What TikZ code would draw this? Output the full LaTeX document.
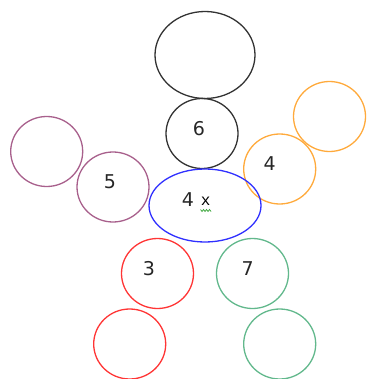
\documentclass[tikz,border=0pt]{standalone}
\usepackage{fontspec}
\setmainfont{DejaVu Sans}
\newfontfamily\xfont{Liberation Mono}
\usetikzlibrary{shapes.geometric}
\definecolor{cgray}{HTML}{333333}
\definecolor{cpurple}{HTML}{A8608C}
\definecolor{corange}{HTML}{FFAA3C}
\definecolor{cblue}{HTML}{3030FF}
\definecolor{cred}{HTML}{FF3535}
\definecolor{cgreen}{HTML}{62B88C}
\definecolor{csquig}{HTML}{30A030}
\tikzset{
  blob/.style={ellipse, draw, line width=1.3pt, inner sep=0pt,
    minimum width=72pt, minimum height=70pt},
  lbl/.style={inner sep=0pt, font=\fontsize{19}{19}\selectfont, text=black!85}
}
\begin{document}
\begin{tikzpicture}[x=1pt,y=-1pt]
\useasboundingbox (0,0) rectangle (366,379);
\node[blob, draw=cgray, minimum width=100pt, minimum height=87pt] (head) at (205,55) {};
\node[blob, draw=cgray] (neck) at (202,133.5) {};
\node[blob, draw=corange] (handR) at (329.5,116.5) {};
\node[blob, draw=corange] (armR) at (279.7,169) {};
\node[blob, draw=cpurple] (handL) at (46.7,151.5) {};
\node[blob, draw=cpurple] (armL) at (113,187) {};
\node[blob, draw=cblue, minimum width=112pt, minimum height=73pt] (body) at (205,205.5) {};
\node[blob, draw=cred] (legL) at (157.5,273.5) {};
\node[blob, draw=cgreen] (legR) at (252.5,273.5) {};
\node[blob, draw=cred] (footL) at (129.7,344) {};
\node[blob, draw=cgreen] (footR) at (279.7,344) {};
\node[lbl] (t6) at (199,129) {6};
\node[lbl] (t4a) at (269.7,164) {4};
\node[lbl] (t5) at (110,182) {5};
\node[lbl] (t4b) at (188,199.3) {4};
\node[inner sep=0pt, font=\xfont\fontsize{16}{16}\selectfont] (tx) at (205.7,201) {x};
\draw[csquig, line width=0.7pt] (200.5,209.5) -- (202,211.5) -- (203.5,209.5) -- (205,211.5) -- (206.5,209.5) -- (208,211.5) -- (209.5,209.5) -- (211,211.5);
\node[lbl] (t3) at (149,269) {3};
\node[lbl] (t7) at (247.7,269) {7};
\end{tikzpicture}
\end{document}
